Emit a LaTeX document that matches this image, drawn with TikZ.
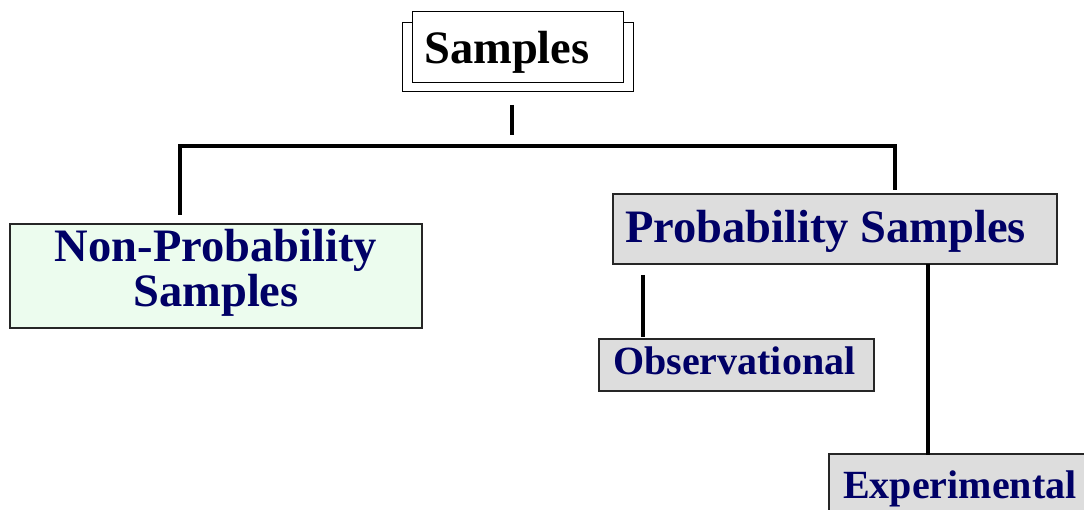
\documentclass[tikz,border=0pt]{standalone}
\usepackage{fontspec}
\setmainfont{Liberation Serif}
\begin{document}
\begin{tikzpicture}[x=1pt,y=-1pt,
  link/.style={line width=3.5pt},
  topbox/.style={draw=black,line width=1pt,fill=white},
  catbox/.style={draw=black!85,line width=2pt},
  bigtxt/.style={font=\bfseries\fontsize{46.5}{48}\selectfont,inner sep=0pt},
  smalltxt/.style={font=\bfseries\fontsize{40}{42}\selectfont,inner sep=0pt,text=navy},
]
\definecolor{navy}{RGB}{0,0,102}
\definecolor{mint}{RGB}{236,252,238}
\definecolor{panel}{RGB}{221,221,221}
\useasboundingbox (0,0) rectangle (1084,510);
\clip (0,0) rectangle (1084,510);

% root box with its offset backing frame
\draw[topbox] (402,23) rectangle (633,92);
\draw[topbox] (412,12) rectangle (623,83);
\node[bigtxt,anchor=base west] (root) at (424,64) {Samples};

% category boxes
\draw[catbox,fill=mint] (10,224) rectangle (422,328);
\node[bigtxt,text=navy,align=center] (nonprob) at (216,273) {Non-Probability\\[-3pt]Samples};

\draw[catbox,fill=panel] (613,194) rectangle (1057,264);
\node[bigtxt,text=navy,anchor=base west] (prob) at (625,243) {Probability Samples};

\draw[catbox,fill=panel] (599,339) rectangle (874,391);
\node[smalltxt,anchor=base west] (obs) at (613,374) {Observational};

\draw[catbox,fill=panel] (829,454) rectangle (1100,530);
\node[smalltxt,anchor=base west] (exp) at (843,498) {Experimental};

% tree connectors
\coordinate (rootdrop) at (512,105);
\coordinate (bar) at (512,146);
\coordinate (barL) at (180,146);
\coordinate (barR) at (895,146);
\coordinate (nonprobtop) at (180,215);
\coordinate (probtop) at (895,190);
\coordinate (obsup) at (643,275);
\coordinate (obstop) at (643,337);
\coordinate (expup) at (928,264);
\coordinate (exptop) at (928,455);

\draw[link] (rootdrop) -- ++(0,30);
\draw[link] ([xshift=-2pt]barL) -- ([xshift=2pt]barR);
\draw[link] (barL) -- (nonprobtop);
\draw[link] (barR) -- (probtop);
\draw[link] (obsup) -- (obstop);
\draw[link] (expup) -- (exptop);
\end{tikzpicture}
\end{document}
